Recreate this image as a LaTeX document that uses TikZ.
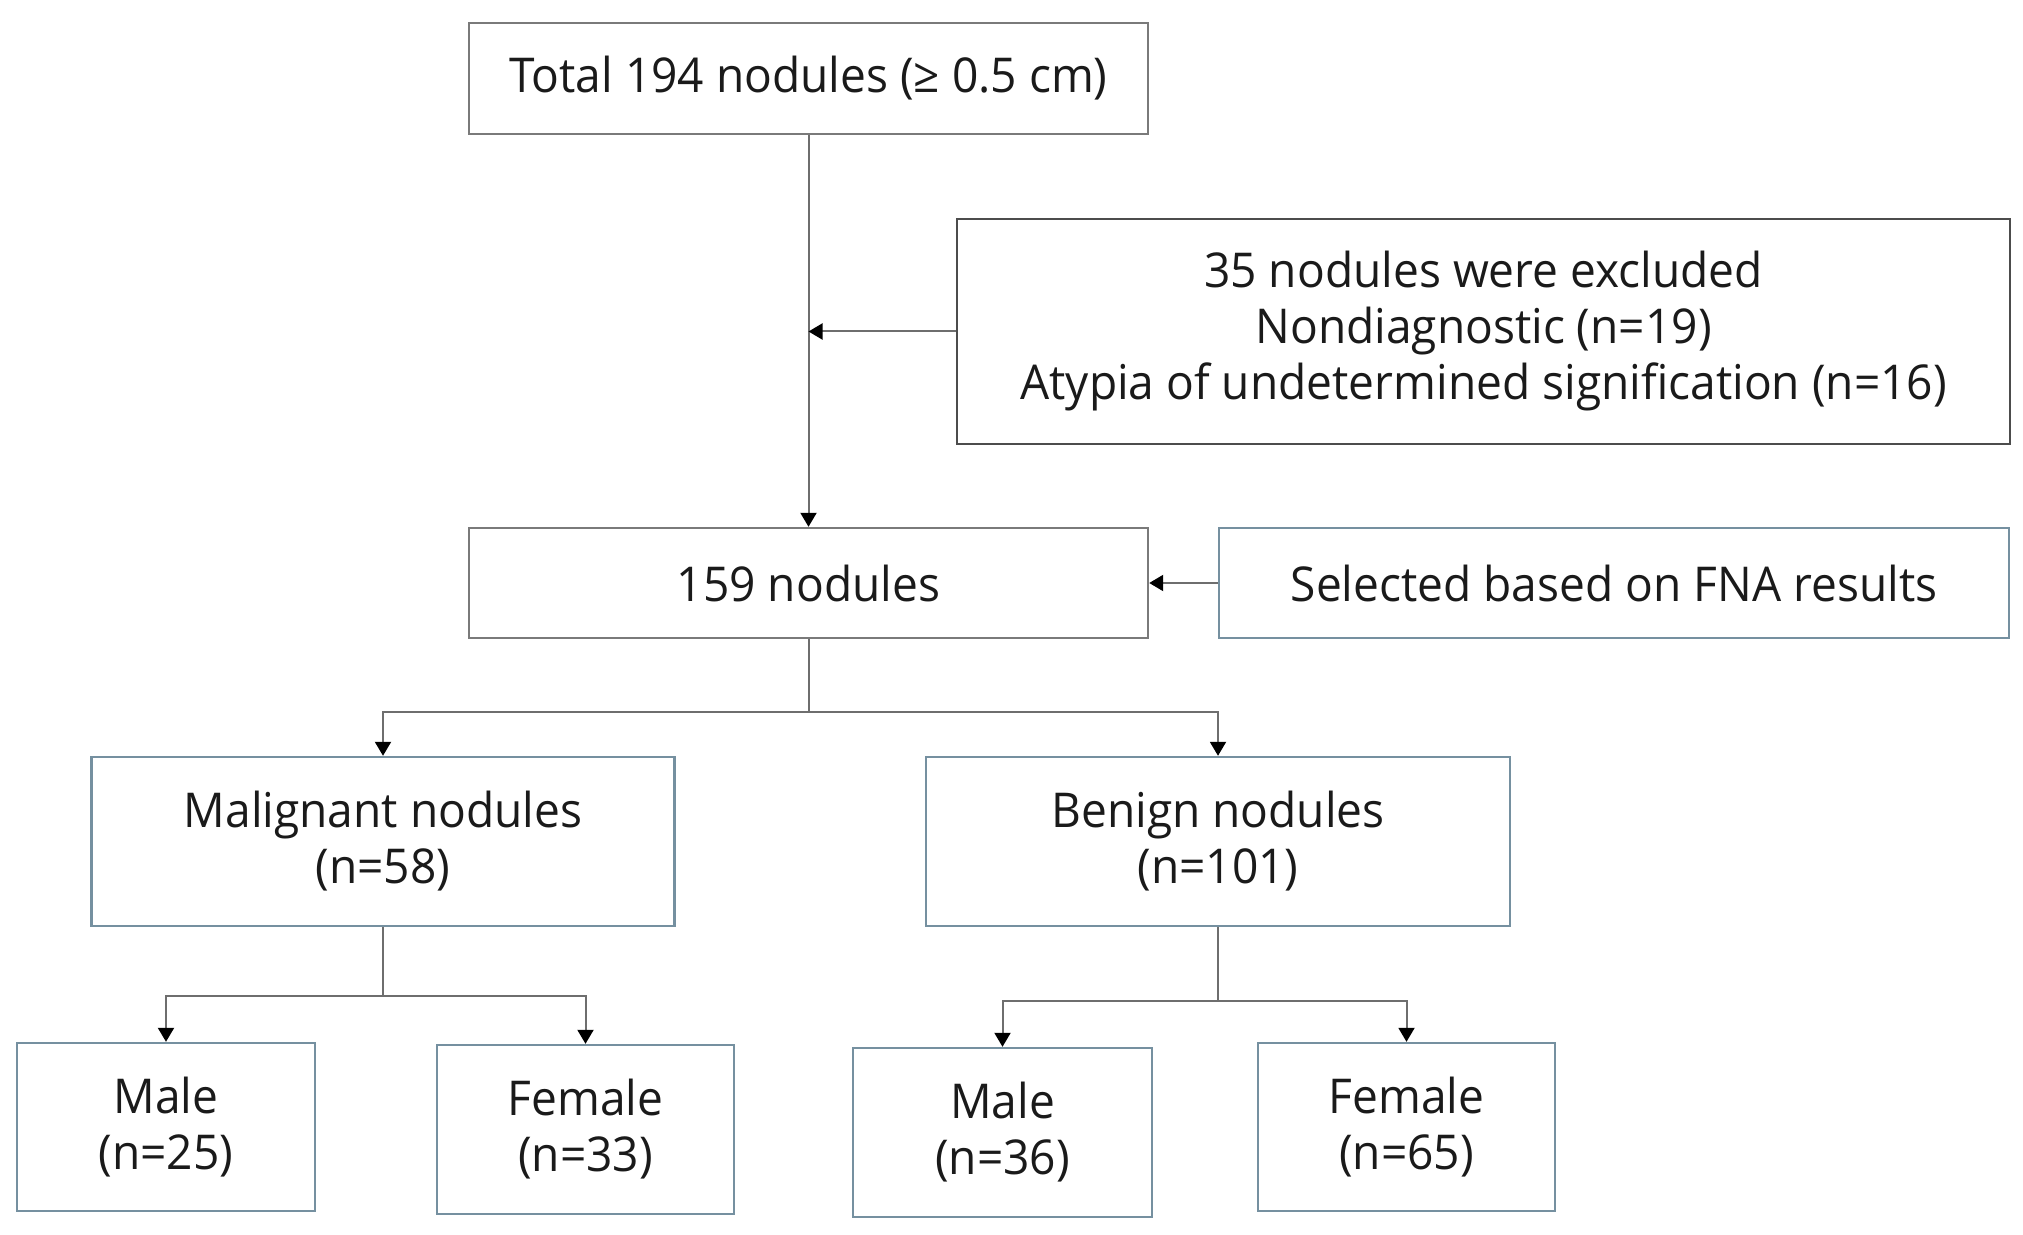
\documentclass[tikz,border=0pt]{standalone}
\usepackage{fontspec}
\setmainfont{Open Sans}[FakeStretch=0.96]
\usetikzlibrary{arrows.meta}
\definecolor{boxgrey}{HTML}{7A7A7A}
\definecolor{boxblue}{HTML}{7590A0}
\definecolor{linegrey}{HTML}{6E6E6E}
\definecolor{txt}{HTML}{1A1A1A}
\tikzset{
  box/.style={draw=boxblue, line width=1.2pt, rectangle, align=center, inner sep=0pt,
    font=\fontsize{24}{28}\selectfont, text=txt},
  conn/.style={draw=linegrey, line width=1pt},
  arr/.style={conn, -{Triangle[length=7pt,width=8pt,color=black]}}
}
\begin{document}
\begin{tikzpicture}[x=0.5pt,y=-0.5pt]
\useasboundingbox (0,0) rectangle (2023,1235);
\node[box, draw=boxgrey, minimum width=339.5pt, minimum height=55.5pt] (top) at (808.5,78.5) {Total 194 nodules (≥ 0.5 cm)};
\node[box, draw=black!70, minimum width=526.5pt, minimum height=112.5pt] (excl) at (1483.5,331.5) {35 nodules were excluded\\Nondiagnostic (n=19)\\Atypia of undetermined signification (n=16)};
\node[box, draw=boxgrey, minimum width=339.5pt, minimum height=55pt] (n159) at (808.5,583) {159 nodules};
\node[box, minimum width=395pt, minimum height=55pt] (fna) at (1614,583) {Selected based on FNA results};
\node[box, minimum width=291.5pt, minimum height=84.5pt] (mal) at (383,841.5) {Malignant nodules\\(n=58)};
\node[box, minimum width=292pt, minimum height=84.5pt] (ben) at (1218,841.5) {Benign nodules\\(n=101)};
\node[box, minimum width=149pt, minimum height=84pt] (m1) at (166,1127) {Male\\(n=25)};
\node[box, minimum width=148.5pt, minimum height=84.5pt] (f1) at (585.5,1129.5) {Female\\(n=33)};
\node[box, minimum width=149.5pt, minimum height=84.5pt] (m2) at (1002.5,1132.5) {Male\\(n=36)};
\node[box, minimum width=148.5pt, minimum height=84pt] (f2) at (1406.5,1127) {Female\\(n=65)};
% main trunk
\draw[arr] (top.south) -- (n159.north);
\coordinate (jex) at (808.5,331.5);
\draw[arr] (excl.west) -- (jex);
\draw[arr] (fna.west) -- (n159.east);
% first split
\coordinate (s1) at (808.5,712);
\draw[conn] (n159.south) -- (s1);
\draw[arr] (s1) -| (mal.north);
\draw[arr] (s1) -| (ben.north);
% malignant split
\coordinate (s2) at (383,996);
\draw[conn] (mal.south) -- (s2);
\draw[arr] (s2) -| (m1.north);
\draw[arr] (s2) -| (f1.north);
% benign split
\coordinate (s3) at (1218,1001);
\draw[conn] (ben.south) -- (s3);
\draw[arr] (s3) -| (m2.north);
\draw[arr] (s3) -| (f2.north);
\end{tikzpicture}
\end{document}
